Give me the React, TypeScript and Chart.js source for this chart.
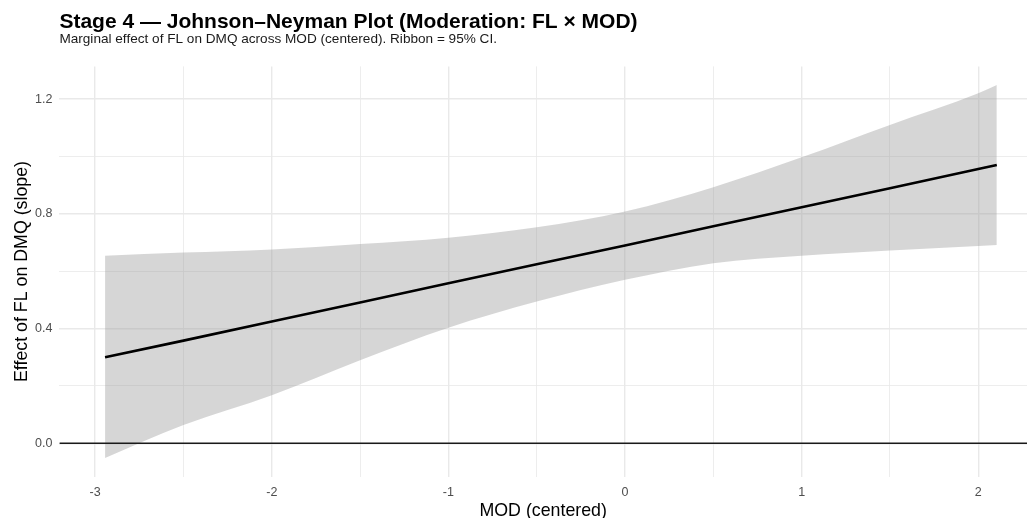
import React, { useEffect, useRef } from "react";
import { Chart, registerables } from "chart.js";

Chart.register(...registerables);

// Moderator values (MOD, centered) at which the marginal effect was read
const modValues = [-2.944, -2.5, -2, -1.5, -1, -0.5, 0, 0.5, 1, 1.5, 2, 2.105];
// Marginal effect of FL on DMQ (slope)
const effectEstimate = [0.300, 0.358, 0.425, 0.491, 0.558, 0.624, 0.690, 0.757, 0.823, 0.889, 0.956, 0.970];
// 95% CI upper / lower bounds
const ciUpper = [0.654, 0.665, 0.676, 0.695, 0.717, 0.753, 0.808, 0.893, 0.997, 1.110, 1.220, 1.249];
const ciLower = [-0.051, 0.064, 0.168, 0.290, 0.403, 0.494, 0.570, 0.628, 0.654, 0.672, 0.688, 0.691];
// Reference line value
const zeroLineValue = 0;

// Axis ticks
const xGridValues = [-3, -2.5, -2, -1.5, -1, -0.5, 0, 0.5, 1, 1.5, 2];
const xLabelValues = [-3, -2, -1, 0, 1, 2];
const yGridValues = [0, 0.2, 0.4, 0.6, 0.8, 1.0, 1.2];
const yLabelValues = [0, 0.4, 0.8, 1.2];
const xLimits = [-3.2025, 2.276];
const yLimits = [-0.116, 1.314];

const titleText = "Stage 4 \u2014 Johnson\u2013Neyman Plot (Moderation: FL \u00d7 MOD)";
const subtitleText = "Marginal effect of FL on DMQ across MOD (centered). Ribbon = 95% CI.";
const xTitle = "MOD (centered)";
const yTitle = "Effect of FL on DMQ (slope)";

const FONT = "'Liberation Sans', Arial, Helvetica, sans-serif";

const inList = (v: number, arr: number[]) => arr.some((a) => Math.abs(a - v) < 1e-6);

export default function App() {
  const ref = useRef<HTMLCanvasElement>(null);

  useEffect(() => {
    if (!ref.current) return;
    const toPts = (ys: number[]) => modValues.map((x, i) => ({ x, y: ys[i] }));
    const chart = new Chart(ref.current, {
      type: "line",
      data: {
        datasets: [
          {
            label: "Estimate",
            data: toPts(effectEstimate),
            borderColor: "#000000",
            borderWidth: 2.6,
            pointRadius: 0,
            fill: false,
            order: 0,
          },
          {
            label: "Zero",
            data: xLimits.map((x) => ({ x, y: zeroLineValue })),
            borderColor: "#1a1a1a",
            borderWidth: 1.5,
            pointRadius: 0,
            fill: false,
            order: 1,
          },
          {
            label: "Lower",
            data: toPts(ciLower),
            borderColor: "transparent",
            borderWidth: 0.01,
            pointRadius: 0,
            fill: false,
            cubicInterpolationMode: "monotone",
            order: 3,
          },
          {
            label: "Upper",
            data: toPts(ciUpper),
            borderColor: "transparent",
            borderWidth: 0.01,
            pointRadius: 0,
            fill: "-1",
            backgroundColor: "rgba(153,153,153,0.4)",
            cubicInterpolationMode: "monotone",
            order: 2,
          },
        ],
      },
      options: {
        responsive: false,
        animation: false,
        devicePixelRatio: 1,
        layout: { padding: 0 },
        plugins: {
          legend: { display: false },
          tooltip: { enabled: false },
          title: {
            display: true,
            text: titleText,
            align: "start",
            fullSize: false,
            color: "#000000",
            font: { family: FONT, size: 21, weight: "bold", lineHeight: 0.9 },
            padding: { top: 13.2, bottom: 0 },
          },
          subtitle: {
            display: true,
            text: subtitleText,
            align: "start",
            fullSize: false,
            color: "#1a1a1a",
            font: { family: FONT, size: 13.6, lineHeight: 1 },
            padding: { top: 0, bottom: 20.7 },
          },
        },
        scales: {
          x: {
            type: "linear",
            min: xLimits[0],
            max: xLimits[1],
            border: { display: false },
            afterBuildTicks: (scale: any) => {
              scale.ticks = xGridValues.map((value) => ({ value }));
            },
            afterFit: (scale: any) => {
              scale.height = 41.4;
            },
            grid: {
              drawTicks: false,
              color: "#e9e9e9",
              lineWidth: (ctx: any) => (inList(ctx.tick?.value, xLabelValues) ? 1.4 : 0.8),
            },
            ticks: {
              autoSkip: false,
              maxRotation: 0,
              padding: 8,
              color: "#4d4d4d",
              font: { family: FONT, size: 12.5 },
              callback: (value: any) => (inList(Number(value), xLabelValues) ? String(Number(value)) : ""),
            },
            title: {
              display: true,
              text: xTitle,
              color: "#000000",
              font: { family: FONT, size: 17.8, lineHeight: 0.72 },
              padding: { top: 0, bottom: 0 },
            },
          },
          y: {
            type: "linear",
            min: yLimits[0],
            max: yLimits[1],
            border: { display: false },
            afterBuildTicks: (scale: any) => {
              scale.ticks = yGridValues.map((value) => ({ value }));
            },
            afterFit: (scale: any) => {
              scale.width = 59.4;
            },
            grid: {
              drawTicks: false,
              color: "#e9e9e9",
              lineWidth: (ctx: any) => (inList(ctx.tick?.value, yLabelValues) ? 1.4 : 0.8),
            },
            ticks: {
              autoSkip: false,
              padding: 7,
              color: "#4d4d4d",
              font: { family: FONT, size: 12.5 },
              callback: (value: any) => (inList(Number(value), yLabelValues) ? Number(value).toFixed(1) : ""),
            },
            title: {
              display: true,
              text: yTitle,
              color: "#000000",
              font: { family: FONT, size: 17.8, lineHeight: 1 },
              padding: { top: 13.1, bottom: 0 },
            },
          },
        },
      },
    } as any);
    return () => chart.destroy();
  }, []);

  return (
    <canvas
      ref={ref}
      width={1027}
      height={518}
      style={{ position: "fixed", left: 0, top: 0, width: 1027, height: 518, background: "#ffffff" }}
    />
  );
}
